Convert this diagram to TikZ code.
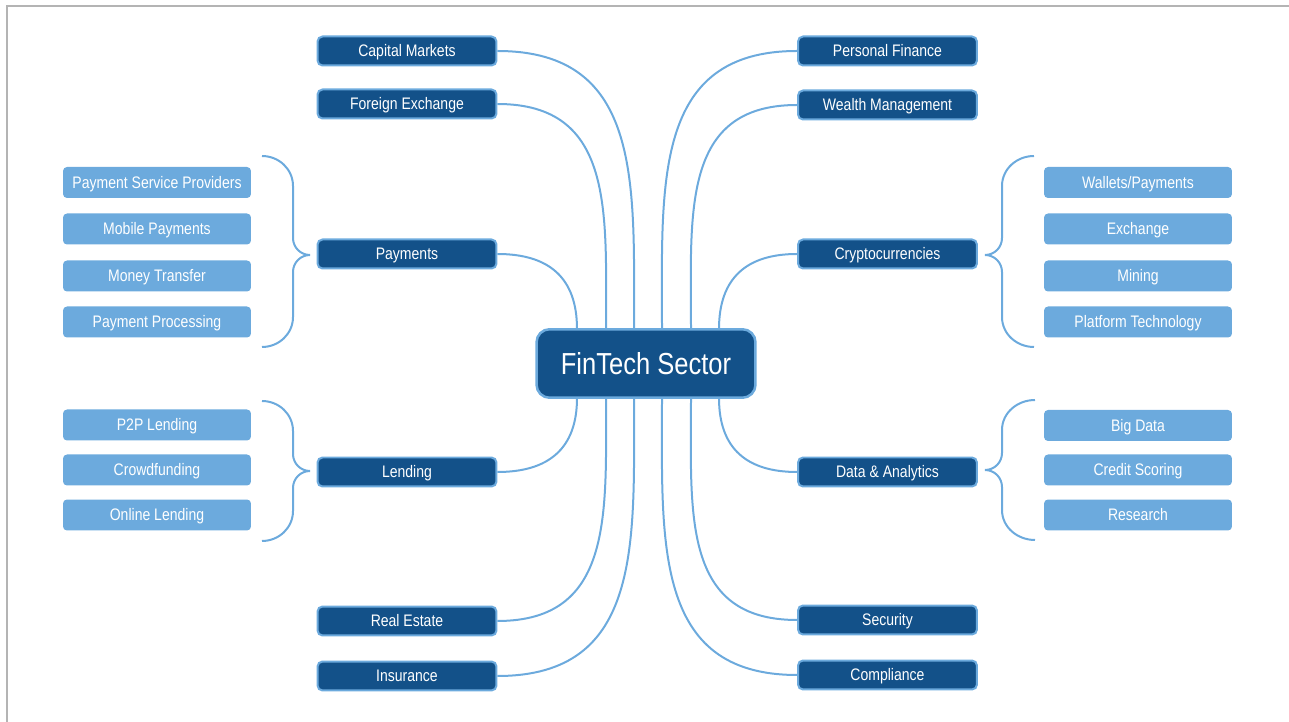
\documentclass[tikz,border=0pt]{standalone}
\usepackage{
  fontspec,
  tikz
}
\setmainfont[FakeStretch=0.84]{Liberation Sans}
\definecolor{secdark}{RGB}{19,81,137}
\definecolor{seclight}{RGB}{108,170,221}
\definecolor{framegray}{RGB}{180,180,180}

\begin{document}
\begin{tikzpicture}[x=0.02cm, y=0.02cm,
  sector/.style={draw=seclight, line width=0.05cm, fill=secdark, rounded corners=0.26cm,
    text=white, minimum width=4.38cm, minimum height=1.37cm, inner sep=0pt,
    text height=12.4pt, text depth=0pt, font=\fontsize{17.3}{20}\selectfont},
  area/.style={draw=seclight, line width=0.04cm, fill=secdark, rounded corners=0.1cm,
    text=white, minimum width=3.58cm, minimum height=0.58cm, inner sep=0pt,
    text height=6.8pt, text depth=0pt, font=\fontsize{9.5}{11}\selectfont},
  sub/.style={fill=seclight, rounded corners=0.08cm, text=white,
    minimum width=3.76cm, minimum height=0.62cm, inner sep=0pt,
    text height=6.8pt, text depth=0pt, font=\fontsize{9.5}{11}\selectfont},
  link/.style={draw=seclight, line width=0.04cm, looseness=1.2}]
  \useasboundingbox (0,0) rectangle (1289,-722);
  \draw[framegray, line width=0.04cm] (7,-730) -- (7,-6) -- (1300,-6);

  \node[sector] (fin) at (646,-363.5) {FinTech Sector};
  \coordinate (t1) at (577,-329);
  \coordinate (t2) at (606,-329);
  \coordinate (t3) at (634,-329);
  \coordinate (t4) at (662,-329);
  \coordinate (t5) at (691,-329);
  \coordinate (t6) at (719,-329);
  \coordinate (b1) at (577,-398);
  \coordinate (b2) at (606,-398);
  \coordinate (b3) at (634,-398);
  \coordinate (b4) at (662,-398);
  \coordinate (b5) at (691,-398);
  \coordinate (b6) at (719,-398);

  \begin{scope}[xshift=407*0.02cm]
    \node[area] (cap) at (0,-51) {Capital Markets};
    \node[area] (fx) at (0,-104) {Foreign Exchange};
    \node[area] (pay) at (0,-254) {Payments};
    \node[area] (lend) at (0,-472) {Lending};
    \node[area] (real) at (0,-621) {Real Estate};
    \node[area] (ins) at (0,-676) {Insurance};
  \end{scope}
  \begin{scope}[xshift=887.5*0.02cm]
    \node[area] (pers) at (0,-51) {Personal Finance};
    \node[area] (wealth) at (0,-105) {Wealth Management};
    \node[area] (crypto) at (0,-254) {Cryptocurrencies};
    \node[area] (data) at (0,-472) {Data \& Analytics};
    \node[area] (sec) at (0,-620) {Security};
    \node[area] (comp) at (0,-675) {Compliance};
  \end{scope}

  \begin{scope}[xshift=157*0.02cm]
    \node[sub] (psp) at (0,-182.5) {Payment Service Providers};
    \node[sub] (mob) at (0,-229) {Mobile Payments};
    \node[sub] (money) at (0,-276) {Money Transfer};
    \node[sub] (proc) at (0,-322) {Payment Processing};
    \node[sub] (p2p) at (0,-425) {P2P Lending};
    \node[sub] (crowd) at (0,-470) {Crowdfunding};
    \node[sub] (online) at (0,-515) {Online Lending};
  \end{scope}
  \begin{scope}[xshift=1138*0.02cm]
    \node[sub] (wallet) at (0,-182.5) {Wallets/Payments};
    \node[sub] (exch) at (0,-229) {Exchange};
    \node[sub] (mining) at (0,-276) {Mining};
    \node[sub] (platform) at (0,-322) {Platform Technology};
    \node[sub] (big) at (0,-425.5) {Big Data};
    \node[sub] (credit) at (0,-470) {Credit Scoring};
    \node[sub] (research) at (0,-515) {Research};
  \end{scope}

  \draw[link] (cap.east) to[out=0, in=90] (t3);
  \draw[link] (fx.east) to[out=0, in=90] (t2);
  \draw[link] (pay.east) to[out=0, in=90] (t1);
  \draw[link] (pers.west) to[out=180, in=90] (t4);
  \draw[link] (wealth.west) to[out=180, in=90] (t5);
  \draw[link] (crypto.west) to[out=180, in=90] (t6);
  \draw[link] (lend.east) to[out=0, in=-90] (b1);
  \draw[link] (real.east) to[out=0, in=-90] (b2);
  \draw[link] (ins.east) to[out=0, in=-90] (b3);
  \draw[link] (comp.west) to[out=180, in=-90] (b4);
  \draw[link] (sec.west) to[out=180, in=-90] (b5);
  \draw[link] (data.west) to[out=180, in=-90] (b6);

  \draw[link, looseness=1] (262,-156) to[out=0, in=90] (293,-186) -- (293,-238)
    to[out=-90, in=180] (310,-255) to[out=180, in=90] (293,-272) -- (293,-317)
    to[out=-90, in=0] (262,-347);
  \draw[link, looseness=1] (262,-401) to[out=0, in=90] (293,-431) -- (293,-454)
    to[out=-90, in=180] (310,-471) to[out=180, in=90] (293,-488) -- (293,-511)
    to[out=-90, in=0] (262,-541);
  \draw[link, looseness=1] (1034,-156) to[out=180, in=90] (1002,-186) -- (1002,-238)
    to[out=-90, in=0] (985,-255) to[out=0, in=90] (1002,-272) -- (1002,-317)
    to[out=-90, in=180] (1034,-347);
  \draw[link, looseness=1] (1035,-400) to[out=180, in=90] (1002,-430) -- (1002,-453)
    to[out=-90, in=0] (985,-470) to[out=0, in=90] (1002,-487) -- (1002,-510)
    to[out=-90, in=180] (1035,-540);
\end{tikzpicture}
\end{document}
